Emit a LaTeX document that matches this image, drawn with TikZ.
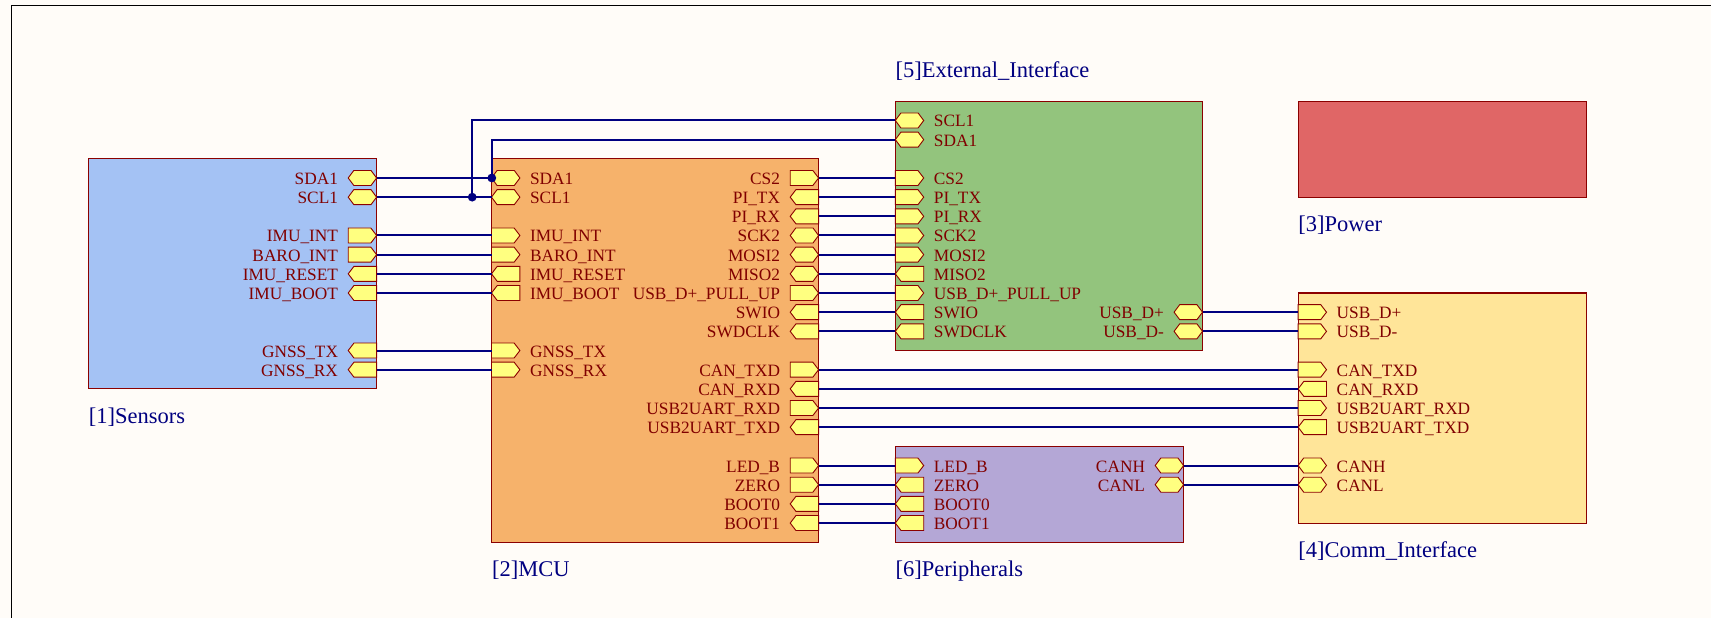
\documentclass[tikz,border=0pt]{standalone}
\usepackage{fontspec}
\setmainfont{Liberation Serif}
\usetikzlibrary{shapes.symbols}
\makeatletter
\pgfdeclareshape{hexport}{%
  \inheritsavedanchors[from=rectangle]%
  \inheritanchorborder[from=rectangle]%
  \inheritanchor[from=rectangle]{center}%
  \inheritanchor[from=rectangle]{east}%
  \inheritanchor[from=rectangle]{west}%
  \inheritanchor[from=rectangle]{north}%
  \inheritanchor[from=rectangle]{south}%
  \backgroundpath{%
    \southwest \pgf@xa=\pgf@x \pgf@ya=\pgf@y
    \northeast \pgf@xb=\pgf@x \pgf@yb=\pgf@y
    \pgf@yc=.5\pgf@ya \advance\pgf@yc by .5\pgf@yb
    \pgfpathmoveto{\pgfqpoint{\pgf@xa}{\pgf@yc}}%
    \pgfpathlineto{\pgfpoint{\pgf@xa+5.6pt}{\pgf@yb}}%
    \pgfpathlineto{\pgfpoint{\pgf@xb-5.6pt}{\pgf@yb}}%
    \pgfpathlineto{\pgfqpoint{\pgf@xb}{\pgf@yc}}%
    \pgfpathlineto{\pgfpoint{\pgf@xb-5.6pt}{\pgf@ya}}%
    \pgfpathlineto{\pgfpoint{\pgf@xa+5.6pt}{\pgf@ya}}%
    \pgfpathclose
  }%
}
\makeatother
\definecolor{bgc}{HTML}{FFFCF8}
\definecolor{edgec}{HTML}{8B0000}
\definecolor{wirec}{HTML}{000080}
\definecolor{portc}{HTML}{FFFF80}
\definecolor{labc}{HTML}{800000}
\definecolor{sensc}{HTML}{A4C2F4}
\definecolor{mcuc}{HTML}{F6B26B}
\definecolor{extc}{HTML}{93C47D}
\definecolor{powc}{HTML}{E06666}
\definecolor{commc}{HTML}{FFE599}
\definecolor{perc}{HTML}{B4A7D6}
\tikzset{
  sheetbox/.style={draw=edgec,line width=1.1pt,rectangle,inner sep=0pt,outer sep=0pt,anchor=north west},
  portbase/.style={draw=edgec,line width=0.9pt,fill=portc,inner sep=0pt,outer sep=0pt,minimum width=28.4pt,minimum height=15pt},
  ptR/.style={portbase,signal,signal pointer angle=105,signal to=east},
  ptL/.style={portbase,signal,signal pointer angle=105,signal to=west},
  ptH/.style={portbase,shape=hexport},
  plabel/.style={text=labc,inner sep=0pt,outer sep=0pt,font=\fontsize{17.3}{18}\selectfont},
  stitle/.style={text=wirec,inner sep=0pt,outer sep=0pt,anchor=base west,font=\fontsize{22.5}{24}\selectfont},
  wire/.style={draw=wirec,line width=2pt},
  jdot/.style={circle,fill=wirec,inner sep=0pt,outer sep=0pt,minimum size=8.8pt},
}
% port on a box's left edge, label to its right
\newcommand{\Lprt}[5]{%
  \node[#4,anchor=west] (#1) at (#2,{101.3+19.17*#3}) {};
  \node[plabel,anchor=base west] (#1t) at (#2+38.6,{107.8+19.17*#3}) {#5};
}
% port on a box's right edge, label to its left
\newcommand{\Rprt}[5]{%
  \node[#4,anchor=east] (#1) at (#2,{101.3+19.17*#3}) {};
  \node[plabel,anchor=base east] (#1t) at (#2-38.6,{107.8+19.17*#3}) {#5};
}
\begin{document}
\begin{tikzpicture}[x=1pt,y=-1pt]
\useasboundingbox (0,0) rectangle (1711,618);
\fill[bgc] (0,0) rectangle (1711,618);
\draw[black,line width=1.1pt] (11.3,618) -- (11.3,5.3) -- (1711,5.3);

% sheet symbols
\node[sheetbox,fill=sensc,minimum width=288.3pt,minimum height=229.9pt] (sensors) at (88.3,158.9) {};
\node[sheetbox,fill=mcuc,minimum width=327.1pt,minimum height=383.4pt] (mcu) at (491.5,158.9) {};
\node[sheetbox,fill=extc,minimum width=307.2pt,minimum height=249.2pt] (ext) at (895.3,101.3) {};
\node[sheetbox,fill=powc,minimum width=288.4pt,minimum height=96.2pt] (power) at (1298.1,101.3) {};
\node[sheetbox,fill=commc,minimum width=288.4pt,minimum height=230.5pt] (comm) at (1298.1,293) {};
\node[sheetbox,fill=perc,minimum width=288.3pt,minimum height=95.9pt] (periph) at (895.3,446.4) {};

% titles
\node[stitle] (tsens) at (88.9,423.6) {[1]Sensors};
\node[stitle] (tmcu) at (492.1,576.7) {[2]MCU};
\node[stitle] (tpow) at (1298.3,231) {[3]Power};
\node[stitle] (tcomm) at (1298.3,557.3) {[4]Comm\_Interface};
\node[stitle] (text) at (895.6,77.3) {[5]External\_Interface};
\node[stitle] (tper) at (895.6,576.7) {[6]Peripherals};

% Sensors
\Rprt{sSDA}{376.6}{4}{ptH}{SDA1}
\Rprt{sSCL}{376.6}{5}{ptH}{SCL1}
\Rprt{sIINT}{376.6}{7}{ptR}{IMU\_INT}
\Rprt{sBINT}{376.6}{8}{ptR}{BARO\_INT}
\Rprt{sIRST}{376.6}{9}{ptL}{IMU\_RESET}
\Rprt{sIBOOT}{376.6}{10}{ptL}{IMU\_BOOT}
\Rprt{sGTX}{376.6}{13}{ptL}{GNSS\_TX}
\Rprt{sGRX}{376.6}{14}{ptL}{GNSS\_RX}

% MCU left
\Lprt{mSDA}{491.5}{4}{ptH}{SDA1}
\Lprt{mSCL}{491.5}{5}{ptH}{SCL1}
\Lprt{mIINT}{491.5}{7}{ptR}{IMU\_INT}
\Lprt{mBINT}{491.5}{8}{ptR}{BARO\_INT}
\Lprt{mIRST}{491.5}{9}{ptL}{IMU\_RESET}
\Lprt{mIBOOT}{491.5}{10}{ptL}{IMU\_BOOT}
\Lprt{mGTX}{491.5}{13}{ptR}{GNSS\_TX}
\Lprt{mGRX}{491.5}{14}{ptR}{GNSS\_RX}

% MCU right
\Rprt{mCS}{818.6}{4}{ptR}{CS2}
\Rprt{mPTX}{818.6}{5}{ptL}{PI\_TX}
\Rprt{mPRX}{818.6}{6}{ptL}{PI\_RX}
\Rprt{mSCK}{818.6}{7}{ptH}{SCK2}
\Rprt{mMOSI}{818.6}{8}{ptH}{MOSI2}
\Rprt{mMISO}{818.6}{9}{ptH}{MISO2}
\Rprt{mPULL}{818.6}{10}{ptR}{USB\_D+\_PULL\_UP}
\Rprt{mSWIO}{818.6}{11}{ptL}{SWIO}
\Rprt{mSWD}{818.6}{12}{ptL}{SWDCLK}
\Rprt{mCTX}{818.6}{14}{ptR}{CAN\_TXD}
\Rprt{mCRX}{818.6}{15}{ptL}{CAN\_RXD}
\Rprt{mURX}{818.6}{16}{ptR}{USB2UART\_RXD}
\Rprt{mUTX}{818.6}{17}{ptL}{USB2UART\_TXD}
\Rprt{mLED}{818.6}{19}{ptR}{LED\_B}
\Rprt{mZERO}{818.6}{20}{ptR}{ZERO}
\Rprt{mB0}{818.6}{21}{ptL}{BOOT0}
\Rprt{mB1}{818.6}{22}{ptL}{BOOT1}

% External interface
\Lprt{eSCL}{895.3}{1}{ptH}{SCL1}
\Lprt{eSDA}{895.3}{2}{ptH}{SDA1}
\Lprt{eCS}{895.3}{4}{ptR}{CS2}
\Lprt{ePTX}{895.3}{5}{ptR}{PI\_TX}
\Lprt{ePRX}{895.3}{6}{ptR}{PI\_RX}
\Lprt{eSCK}{895.3}{7}{ptR}{SCK2}
\Lprt{eMOSI}{895.3}{8}{ptR}{MOSI2}
\Lprt{eMISO}{895.3}{9}{ptL}{MISO2}
\Lprt{ePULL}{895.3}{10}{ptR}{USB\_D+\_PULL\_UP}
\Lprt{eSWIO}{895.3}{11}{ptL}{SWIO}
\Lprt{eSWD}{895.3}{12}{ptL}{SWDCLK}
\Rprt{eDP}{1202.5}{11}{ptH}{USB\_D+}
\Rprt{eDM}{1202.5}{12}{ptH}{USB\_D-}

% Peripherals
\Lprt{pLED}{895.3}{19}{ptR}{LED\_B}
\Lprt{pZERO}{895.3}{20}{ptL}{ZERO}
\Lprt{pB0}{895.3}{21}{ptL}{BOOT0}
\Lprt{pB1}{895.3}{22}{ptL}{BOOT1}
\Rprt{pCH}{1183.6}{19}{ptH}{CANH}
\Rprt{pCL}{1183.6}{20}{ptH}{CANL}

% Comm interface
\Lprt{cDP}{1298.1}{11}{ptR}{USB\_D+}
\Lprt{cDM}{1298.1}{12}{ptR}{USB\_D-}
\Lprt{cCTX}{1298.1}{14}{ptR}{CAN\_TXD}
\Lprt{cCRX}{1298.1}{15}{ptL}{CAN\_RXD}
\Lprt{cURX}{1298.1}{16}{ptR}{USB2UART\_RXD}
\Lprt{cUTX}{1298.1}{17}{ptL}{USB2UART\_TXD}
\Lprt{cCH}{1298.1}{19}{ptH}{CANH}
\Lprt{cCL}{1298.1}{20}{ptH}{CANL}

% junctions
\node[jdot] (jsda) at (491.8,{101.3+19.17*4}) {};
\node[jdot] (jscl) at (472.2,{101.3+19.17*5}) {};

% wires
\draw[wire] (sSDA.east) -- (mSDA.west);
\draw[wire] (sSCL.east) -- (mSCL.west);
\draw[wire] (jsda.center) |- (eSDA.west);
\draw[wire] (jscl.center) |- (eSCL.west);
\foreach \a/\b in {sIINT/mIINT,sBINT/mBINT,sIRST/mIRST,sIBOOT/mIBOOT,sGTX/mGTX,sGRX/mGRX,
  mCS/eCS,mPTX/ePTX,mPRX/ePRX,mSCK/eSCK,mMOSI/eMOSI,mMISO/eMISO,mPULL/ePULL,mSWIO/eSWIO,mSWD/eSWD,
  mCTX/cCTX,mCRX/cCRX,mURX/cURX,mUTX/cUTX,mLED/pLED,mZERO/pZERO,mB0/pB0,mB1/pB1,
  eDP/cDP,eDM/cDM,pCH/cCH,pCL/cCL}
  {\draw[wire] (\a.east) -- (\b.west);}
\end{tikzpicture}
\end{document}
